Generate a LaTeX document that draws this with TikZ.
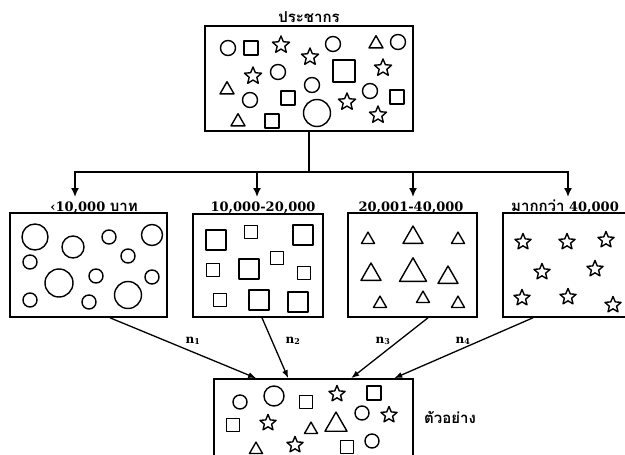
\documentclass[tikz,border=0pt]{standalone}
\usepackage{fontspec}
\setmainfont{DejaVu Serif}
\newfontfamily\thai[Script=Thai]{Loma}
\usetikzlibrary{arrows.meta,calc}
\tikzset{
  box/.style={draw,line width=1.6pt,inner sep=0pt},
  lab/.style={font=\fontsize{13}{15}\selectfont\bfseries,anchor=base,inner sep=0pt},
  thlab/.style={font=\fontsize{15}{17}\selectfont\thai\bfseries,anchor=base,inner sep=0pt},
  nlab/.style={font=\fontsize{12}{14}\selectfont\bfseries,anchor=base,inner sep=0pt},
  tree/.style={line width=1.6pt},
  treearr/.style={line width=1.6pt,-{Latex[length=9pt,width=8pt]}},
  samparr/.style={line width=1.3pt,-{Latex[length=8pt,width=6pt]}},
  shp/.style={line width=1.4pt,line join=round},
  pics/cir/.style={code={\draw[shp] (0,0) circle[radius=#1];}},
  pics/sq/.style={code={\draw[shp] (-#1/2,-#1/2) rectangle (#1/2,#1/2);}},
  pics/tri/.style={code={\draw[shp] (-#1/2,0.42*#1) -- (#1/2,0.42*#1) -- (0,-0.45*#1) -- cycle;}},
  pics/st/.style={code={\draw[shp] (-90:#1) \foreach \k in {0,...,4}{ -- (-54+72*\k:0.45*#1) -- (-18+72*\k:#1)} -- cycle;}},
}
\begin{document}
\begin{tikzpicture}[x=1pt,y=-1pt]
\useasboundingbox (0,0) rectangle (625,455);
\clip (0,0) rectangle (625,455);

% boxes
\node[box,minimum width=208pt,minimum height=105pt] (pop) at (309,78.5) {};
\node[box,minimum width=157pt,minimum height=104pt] (b1) at (88.5,265) {};
\node[box,minimum width=130pt,minimum height=103pt] (b2) at (258,265.5) {};
\node[box,minimum width=129pt,minimum height=104pt] (b3) at (412.5,265) {};
\node[box,minimum width=125pt,minimum height=104pt] (b4) at (565.5,265) {};
\node[box,minimum width=199pt,minimum height=91pt] (bot) at (313.5,424.5) {};

% labels
\node[thlab] (tpop) at (309,23) {ประชากร};
\node[lab] (l1) at (94,211) {‹10,000 {\fontsize{15}{17}\selectfont\thai\bfseries บาท}};
\node[lab] (l2) at (263,211) {10,000-20,000};
\node[lab] (l3) at (411,211) {20,001-40,000};
\node[lab] (l4) at (565,211) {{\fontsize{15}{17}\selectfont\thai\bfseries มากกว่า} 40,000};
\node[thlab] (tsam) at (450,423) {ตัวอย่าง};

% tree connectors
\coordinate (hub) at (309,172);
\coordinate (t1) at (75,197);
\coordinate (t2) at (257,197);
\coordinate (t3) at (413,197);
\coordinate (t4) at (568,197);
\draw[tree] (pop.south) -- (hub);
\draw[treearr] (hub) -| (t1);
\draw[treearr] (hub) -| (t2);
\draw[treearr] (hub) -| (t3);
\draw[treearr] (hub) -| (t4);

% sample connectors
\draw[samparr] ([xshift=21.5pt]b1.south) -- ([xshift=43pt]bot.north west);
\draw[samparr] ([xshift=4pt]b2.south) -- ([xshift=75pt]bot.north west);
\draw[samparr] ([xshift=15.5pt]b3.south) -- ([xshift=138pt]bot.north west);
\draw[samparr] ([xshift=-32.5pt]b4.south) -- ([xshift=181pt]bot.north west);
\node[nlab] (n1) at (193,343) {n\textsubscript{1}};
\node[nlab] (n2) at (293,343) {n\textsubscript{2}};
\node[nlab] (n3) at (383,343) {n\textsubscript{3}};
\node[nlab] (n4) at (463,343) {n\textsubscript{4}};

% population shapes
\foreach \x/\y/\r in {228/48/7.5,333/44/7.5,398/42/7.5,278/72/7.5,312/85/7.5,250/100/7.5,370/91/7.5,317/113/13.5}
  \pic at (\x,\y) {cir=\r};
\foreach \x/\y/\s in {251/48/14,344/71/22,288/98/14,397/97/14,272/121/14}
  \pic at (\x,\y) {sq=\s};
\foreach \x/\y in {281/45,310/57,253/76,383/68,347/102,378/115}
  \pic at (\x,\y) {st=9};
\foreach \x/\y/\w in {376/42/14,227/88/14,238/120/14}
  \pic at (\x,\y) {tri=\w};

% box 1 circles
\foreach \x/\y/\r in {35/237/13,73/247/11,109/237/7,152/235/10.5,30/262/7,128/256/7,59/283/14,96/276/7,152/277/7,30/300/7,89/302/7,128/295/13.5}
  \pic at (\x,\y) {cir=\r};

% box 2 squares
\foreach \x/\y/\s in {216/240/20,251/232/13,303/235/20,213/270/13,249/269/20,277/258/13,304/273/13,220/300/13,259/300/20,298/302/20}
  \pic at (\x,\y) {sq=\s};

% box 3 triangles
\foreach \x/\y/\w in {368/238/13,413/235/20,458/238/13,371/272/20,413/270/27,448/275/20,380/302/13,423/297/13,458/302/13}
  \pic at (\x,\y) {tri=\w};

% box 4 stars
\foreach \x/\y in {523/242,567/242,606/240,542/272,595/269,522/298,568/297,613/305}
  \pic at (\x,\y) {st=8.5};

% sample shapes
\foreach \x/\y/\r in {240/402/7,274/396/10,362/413/7,372/441/7}
  \pic at (\x,\y) {cir=\r};
\foreach \x/\y/\s in {306/402/13,374/393/14,233/425/13,347/447/13}
  \pic at (\x,\y) {sq=\s};
\foreach \x/\y in {337/394,268/423,389/415,295/445}
  \pic at (\x,\y) {st=8.5};
\foreach \x/\y/\w in {311/428/13,336/422/22,256/448/13}
  \pic at (\x,\y) {tri=\w};
\end{tikzpicture}
\end{document}
